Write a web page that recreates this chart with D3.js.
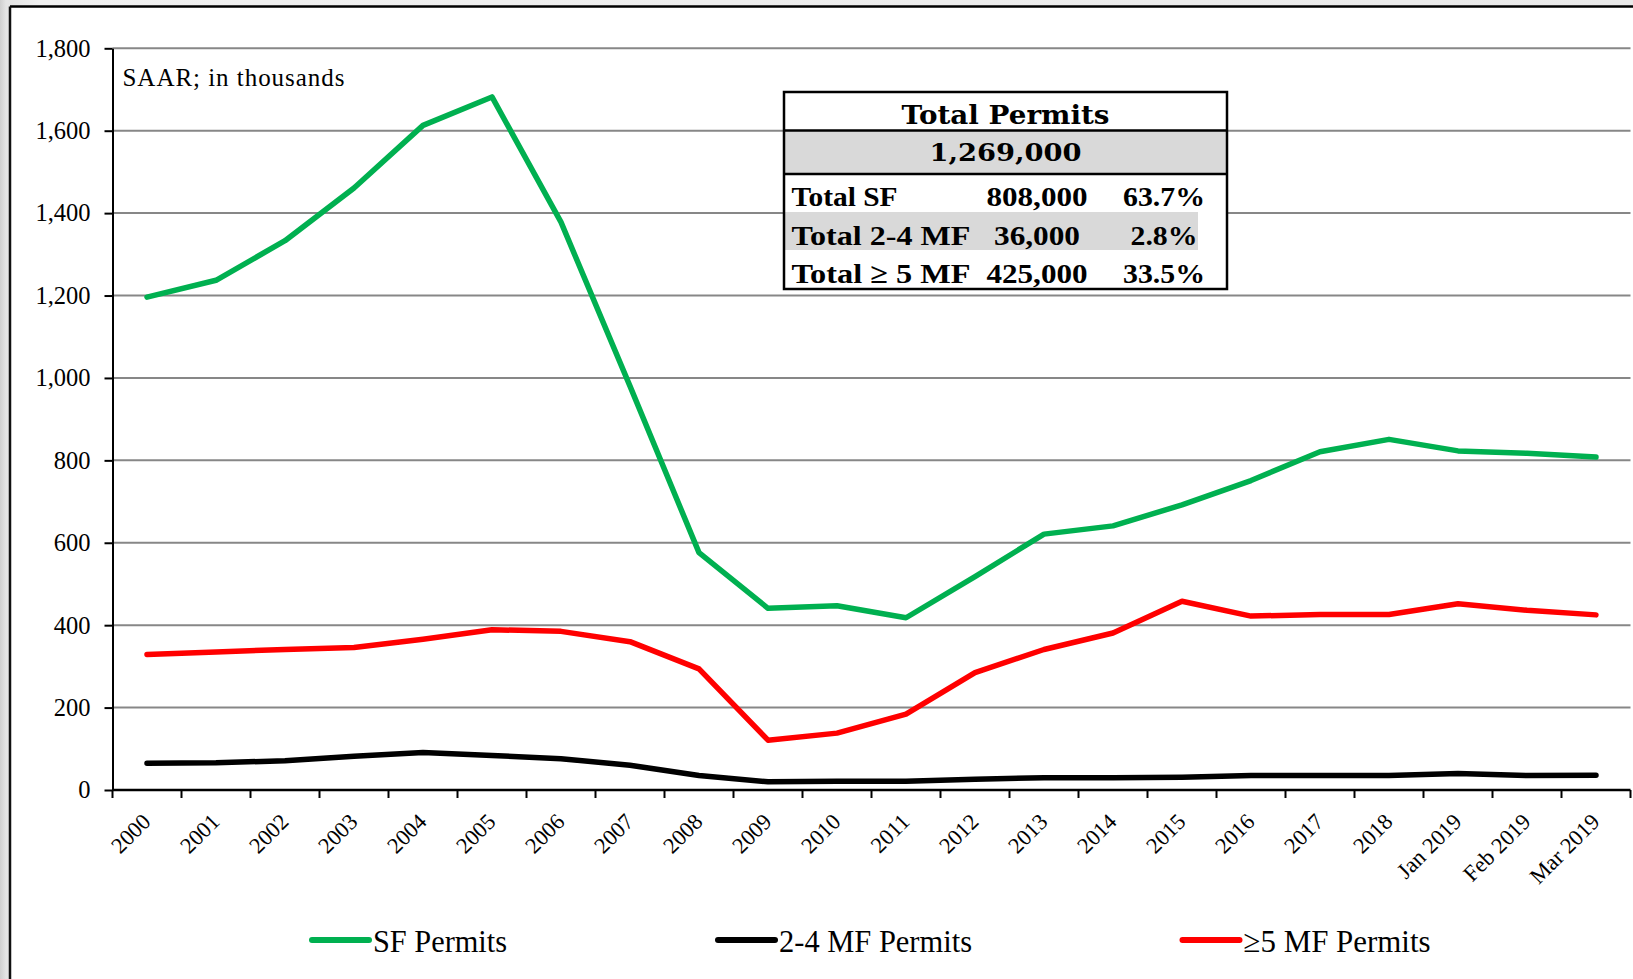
<!DOCTYPE html>
<html>
<head>
<meta charset="utf-8">
<script src="https://cdn.jsdelivr.net/npm/d3@7"></script>
<style>
  body { margin: 0; background: linear-gradient(90deg, #cfcfcf 0px, #e4e4e4 6px, #f0f0f0 40px, #e9e9e9 100%); }
  svg { display: block; }
</style>
</head>
<body>
<script>

var categories = ["2000","2001","2002","2003","2004","2005","2006","2007","2008","2009","2010",
                  "2011","2012","2013","2014","2015","2016","2017","2018","Jan 2019","Feb 2019","Mar 2019"];

// SAAR, thousands
var sfPermits  = [1196,1237,1333,1461,1613,1682,1378,980,576,441,447,418,518,621,641,692,751,821,851,823,817,808];
var mf24Permits = [65,66,71,82,91,84,76,60,35,20,21,21,26,30,30,31,35,35,35,40,35,36];
var mf5Permits = [329,335,341,346,366,389,385,360,294,121,138,184,285,341,381,458,422,426,426,452,436,425];

var yTicks = [0,200,400,600,800,1000,1200,1400,1600,1800];

var tableTitle = "Total Permits";
var tableTotal = "1,269,000";
var tableLabels = ["Total SF", "Total 2-4  MF", "Total \u2265 5 MF"];
var tableCounts = ["808,000", "36,000", "425,000"];
var tableShares = ["63.7%", "2.8%", "33.5%"];

var seriesNames = ["SF Permits", "2-4 MF Permits", "\u22655 MF Permits"];
var seriesColors = ["#00b050", "#000000", "#ff0000"];

var width = 1633, height = 979;
var plot = {left: 112.5, right: 1630.5, top: 48.3, bottom: 790};

var svg = d3.select("body").append("svg")
    .attr("width", width)
    .attr("height", height);

// chart area (white, black frame on top/left)
svg.append("rect")
    .attr("x", 10).attr("y", 6.5)
    .attr("width", width).attr("height", height)
    .attr("fill", "#fff");
svg.append("line").attr("x1", 10).attr("x2", width).attr("y1", 6.5).attr("y2", 6.5)
    .attr("stroke", "#000").attr("stroke-width", 2.5);
svg.append("line").attr("x1", 10).attr("x2", 10).attr("y1", 6.5).attr("y2", height)
    .attr("stroke", "#111").attr("stroke-width", 2.5);

var xScale = d3.scaleBand().domain(categories).range([plot.left, plot.right]).padding(0);
var yScale = d3.scaleLinear().domain([0, 1800]).range([plot.bottom, plot.top]);
var cx = function(c) { return xScale(c) + xScale.bandwidth() / 2; };

function drawAxes(){

  // gridlines
  svg.append("g").selectAll("line")
      .data(yTicks.filter(function(d) { return d > 0; }))
      .enter().append("line")
      .attr("x1", plot.left).attr("x2", plot.right)
      .attr("y1", function(d) { return yScale(d); })
      .attr("y2", function(d) { return yScale(d); })
      .attr("stroke", "#878787")
      .attr("stroke-width", 2);

  var y_axis = d3.axisLeft(yScale)
      .tickValues(yTicks)
      .tickSize(8)
      .tickSizeOuter(0)
      .tickPadding(14)
      .tickFormat(d3.format(","));

  var gy = svg.append("g")
      .attr("transform", "translate(" + plot.left + ",0)")
      .call(y_axis);
  gy.select(".domain").attr("stroke", "#000").attr("stroke-width", 2);
  gy.selectAll(".tick line").attr("stroke", "#000").attr("stroke-width", 2);
  gy.selectAll(".tick text")
      .attr("font-family", "'Liberation Serif', 'Times New Roman', serif")
      .attr("font-size", "24.5px")
      .attr("fill", "#000");

  // x axis: ticks sit between categories
  svg.append("line")
      .attr("x1", plot.left).attr("x2", plot.right)
      .attr("y1", plot.bottom).attr("y2", plot.bottom)
      .attr("stroke", "#000").attr("stroke-width", 2.5);

  var edges = categories.map(function(c) { return xScale(c); }).concat([plot.right]);
  svg.append("g").selectAll("line")
      .data(edges)
      .enter().append("line")
      .attr("x1", function(d) { return d; }).attr("x2", function(d) { return d; })
      .attr("y1", plot.bottom).attr("y2", plot.bottom + 8)
      .attr("stroke", "#000").attr("stroke-width", 2);

  svg.append("g").selectAll("text")
      .data(categories)
      .enter().append("text")
      .attr("transform", function(d) { return "translate(" + (cx(d) + 5) + "," + (plot.bottom + 33) + ") rotate(-45)"; })
      .attr("text-anchor", "end")
      .attr("font-family", "'Liberation Serif', 'Times New Roman', serif")
      .attr("font-size", "22.5px")
      .text(function(d) { return d; });

  svg.append("text")
      .attr("x", 122.5)
      .attr("y", 86)
      .attr("font-family", "'Liberation Serif', 'Times New Roman', serif")
      .attr("font-size", "25px")
      .attr("textLength", 222)
      .attr("lengthAdjust", "spacing")
      .text("SAAR; in thousands");
}

function drawSeries(values, color){
  var line = d3.line()
      .x(function(d, i) { return cx(categories[i]); })
      .y(function(d) { return yScale(d); });

  svg.append("path")
      .datum(values)
      .attr("d", line)
      .attr("fill", "none")
      .attr("stroke", color)
      .attr("stroke-width", 5.5)
      .attr("stroke-linejoin", "round")
      .attr("stroke-linecap", "round");
}

function drawTable(){
  var t = {x: 784, y: 92, w: 443, h: 197};
  var rowY = [92, 130.5, 174, 212, 250, 289];
  var g = svg.append("g");

  g.append("rect").attr("x", t.x).attr("y", t.y).attr("width", t.w).attr("height", t.h).attr("fill", "#fff");
  g.append("rect").attr("x", t.x).attr("y", rowY[1]).attr("width", t.w).attr("height", rowY[2] - rowY[1]).attr("fill", "#d9d9d9");
  g.append("rect").attr("x", t.x).attr("y", rowY[3]).attr("width", 414).attr("height", rowY[4] - rowY[3]).attr("fill", "#d9d9d9");

  g.append("rect").attr("x", t.x).attr("y", t.y).attr("width", t.w).attr("height", t.h)
      .attr("fill", "none").attr("stroke", "#000").attr("stroke-width", 2.5);
  [rowY[1], rowY[2]].forEach(function(yy) {
    g.append("line").attr("x1", t.x).attr("x2", t.x + t.w).attr("y1", yy).attr("y2", yy)
        .attr("stroke", "#000").attr("stroke-width", 2.5);
  });

  var mid = t.x + t.w / 2;
  g.append("text")
      .attr("x", mid).attr("y", 124)
      .attr("text-anchor", "middle")
      .attr("font-family", "'DejaVu Serif', serif").attr("font-weight", "bold")
      .attr("font-size", "26px")
      .attr("textLength", 208).attr("lengthAdjust", "spacingAndGlyphs")
      .text(tableTitle);
  g.append("text")
      .attr("x", mid).attr("y", 161)
      .attr("text-anchor", "middle")
      .attr("font-family", "'DejaVu Serif', serif").attr("font-weight", "bold")
      .attr("font-size", "25px")
      .attr("textLength", 152).attr("lengthAdjust", "spacingAndGlyphs")
      .text(tableTotal);

  var baselines = [206, 244.5, 283];
  var labelW = [106, 179, 179];
  var countW = [101, 86, 101];
  var shareW = [82, 67, 82];
  var font = "'Liberation Serif', 'Times New Roman', serif";
  tableLabels.forEach(function(lbl, i) {
    g.append("text").attr("x", 791.5).attr("y", baselines[i])
        .attr("font-family", font).attr("font-weight", "bold").attr("font-size", "28px")
        .attr("textLength", labelW[i]).attr("lengthAdjust", "spacingAndGlyphs")
        .text(lbl);
    g.append("text").attr("x", 1037).attr("y", baselines[i])
        .attr("text-anchor", "middle")
        .attr("font-family", font).attr("font-weight", "bold").attr("font-size", "28px")
        .attr("textLength", countW[i]).attr("lengthAdjust", "spacingAndGlyphs")
        .text(tableCounts[i]);
    g.append("text").attr("x", 1164).attr("y", baselines[i])
        .attr("text-anchor", "middle")
        .attr("font-family", font).attr("font-weight", "bold").attr("font-size", "28px")
        .attr("textLength", shareW[i]).attr("lengthAdjust", "spacingAndGlyphs")
        .text(tableShares[i]);
  });
}

function drawLegend(){
  var items = [
    {x: 312, textW: 134},
    {x: 718, textW: 193},
    {x: 1182.5, textW: 187}
  ];
  var ly = 940;
  items.forEach(function(it, i) {
    svg.append("line")
        .attr("x1", it.x).attr("x2", it.x + 57)
        .attr("y1", ly).attr("y2", ly)
        .attr("stroke", seriesColors[i]).attr("stroke-width", 6)
        .attr("stroke-linecap", "round");
    svg.append("text")
        .attr("x", it.x + 61).attr("y", ly + 12)
        .attr("font-family", "'Liberation Serif', 'Times New Roman', serif")
        .attr("font-size", "32px")
        .attr("textLength", it.textW).attr("lengthAdjust", "spacingAndGlyphs")
        .text(seriesNames[i]);
  });
}

drawAxes();
drawSeries(mf24Permits, seriesColors[1]);
drawSeries(mf5Permits, seriesColors[2]);
drawSeries(sfPermits, seriesColors[0]);
drawTable();
drawLegend();

</script>
</body>
</html>
